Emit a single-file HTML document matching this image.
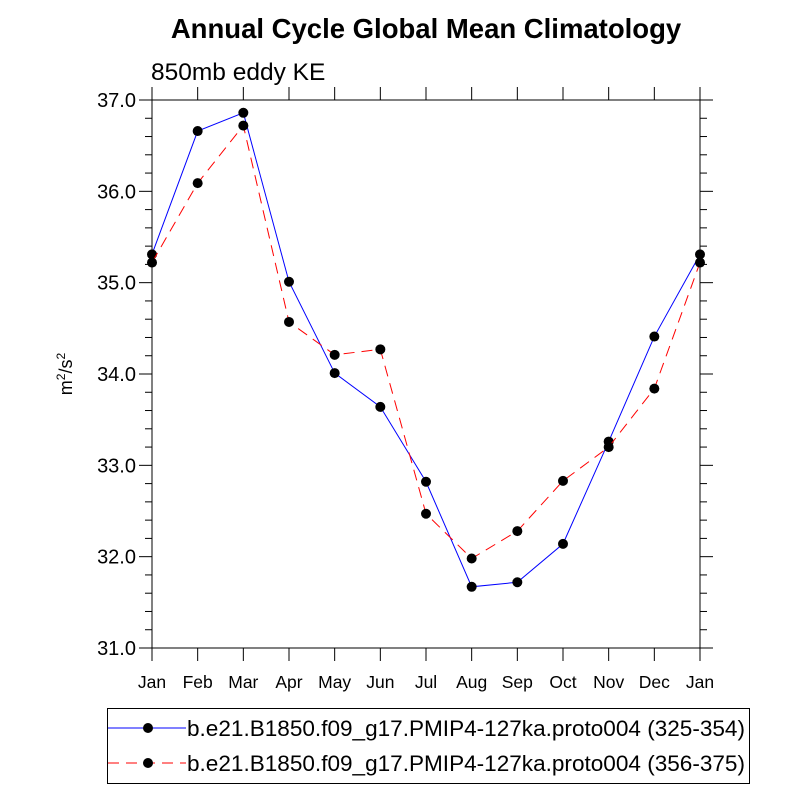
<!DOCTYPE html>
<html><head><meta charset="utf-8"><style>body{margin:0;background:#fff}svg{display:block;font-family:"Liberation Sans",sans-serif}</style></head>
<body>
<svg id="chart" width="800" height="800">
<text x="426" y="38" text-anchor="middle" font-size="27.5" font-weight="bold">Annual Cycle Global Mean Climatology</text>
<text x="151" y="80" font-size="24.5">850mb eddy KE</text>
<text transform="translate(72,374) rotate(-90)" text-anchor="middle" font-size="18">m<tspan font-size="12" dy="-7">2</tspan><tspan dy="7">/s</tspan><tspan font-size="12" dy="-7">2</tspan></text>
<g id="axes"></g><g id="series"></g>
<g>
<rect x="107.5" y="708.5" width="642" height="75" fill="none" stroke="#000" stroke-width="1"/>
<g><line x1="108" y1="728" x2="186" y2="728" stroke="#00f" stroke-width="1"/><circle cx="148" cy="728" r="5" fill="#000"/><text x="187" y="736" font-size="22" textLength="558" lengthAdjust="spacingAndGlyphs">b.e21.B1850.f09_g17.PMIP4-127ka.proto004 (325-354)</text></g>
<g><line x1="108" y1="763" x2="186" y2="763" stroke="#f00" stroke-width="1" stroke-dasharray="11,7"/><circle cx="148" cy="763" r="5" fill="#000"/><text x="187" y="771" font-size="22" textLength="558" lengthAdjust="spacingAndGlyphs">b.e21.B1850.f09_g17.PMIP4-127ka.proto004 (356-375)</text></g>
</g>
</svg>
<script>
const months=["Jan","Feb","Mar","Apr","May","Jun","Jul","Aug","Sep","Oct","Nov","Dec","Jan"];
const yTicks=[31,32,33,34,35,36,37];
const seriesA=[35.31,36.66,36.86,35.01,34.01,33.64,32.82,31.67,31.72,32.14,33.26,34.41,35.31];
const seriesB=[35.22,36.09,36.72,34.57,34.21,34.27,32.47,31.98,32.28,32.83,33.2,33.84,35.22];
const L=152,R=700,T=100,B=648,NS="http://www.w3.org/2000/svg";
const xs=i=>L+i*(R-L)/12, ys=v=>B-(v-31)*(B-T)/6;
function mk(p,t,a){const e=document.createElementNS(NS,t);for(const k in a)e.setAttribute(k,a[k]);p.appendChild(e);return e;}
const ax=document.getElementById('axes');
const fr=mk(ax,'rect',{x:L,y:T,width:R-L,height:B-T,fill:'none',stroke:'#000','stroke-width':1});


months.forEach((m,i)=>{const x=xs(i);
mk(ax,'line',{x1:x,y1:B,x2:x,y2:B+13,stroke:'#000'});
mk(ax,'line',{x1:x,y1:T,x2:x,y2:T-13,stroke:'#000'});
const t=mk(ax,'text',{x:x,y:B+40,'text-anchor':'middle','font-size':17.5});t.textContent=m;

});
for(let v=31;v<=37.001;v+=0.2){const y=ys(v),maj=Math.abs(v-Math.round(v))<1e-6,l=maj?13:7;
mk(ax,'line',{x1:L,y1:y,x2:L-l,y2:y,stroke:'#000'});mk(ax,'line',{x1:R,y1:y,x2:R+l,y2:y,stroke:'#000'});}
yTicks.forEach(v=>{const t=mk(ax,'text',{x:L-16,y:ys(v)+7,'text-anchor':'end','font-size':20});t.textContent=v.toFixed(1);

});
const sg=document.getElementById('series');
[[seriesA,'#00f',null,'series-a'],[seriesB,'#f00','11,7','series-b']].forEach(([d,c,da,n])=>{
const g=mk(sg,'g',{});

const a={points:d.map((v,i)=>xs(i)+','+ys(v)).join(' '),fill:'none',stroke:c,'stroke-width':1};if(da)a['stroke-dasharray']=da;
mk(g,'polyline',a);
d.forEach((v,i)=>{const p=mk(g,'circle',{cx:xs(i),cy:ys(v),r:5,fill:'#000'});

});});
</script>
</body></html>
